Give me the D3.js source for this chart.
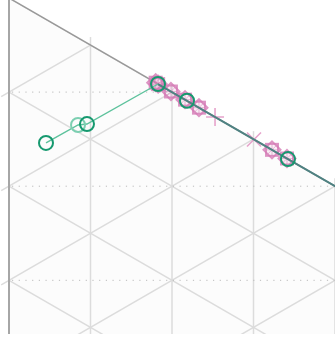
<!DOCTYPE html>
<html><head><meta charset="utf-8">
<script src="https://cdn.jsdelivr.net/npm/d3@7/dist/d3.min.js"></script>
<style>html,body{margin:0;padding:0;background:#fff}svg{display:block}</style>
</head><body><svg id="c" width="335" height="339"></svg>
<script>
// ternary components: r (right vertex), l (bottom-left vertex), t = 1 - r - l
const gridTicks = [0, 0.1, 0.2, 0.3, 0.4];
const greenR = [0.0454, 0.0847, 0.0957, 0.1828, 0.2184, 0.3423];
const greenL = [0.1313, 0.0926, 0.0861, 0.0, 0.0, 0.0];
const greenFaded = [false, true, false, false, false, false];
const tealR = [0.1828, 0.3423, 0.45];
const tealL = [0, 0, 0];
const pinkStarR = [0.1800, 0.1830, 0.1987, 0.2160, 0.2331, 0.3227, 0.3411];
const pinkStarL = [0, 0, 0, 0, 0, 0, 0];
const pinkPlusR = [0.2528];
const pinkPlusL = [0];
const pinkXR = [0.3006];
const pinkXL = [0];

const W = 335, H = 339, clipBottom = 334;
const svg = d3.select('#c');
const tan30 = Math.tan(Math.PI/6);
const xs = d3.scaleLinear().domain([0, 0.4]).range([9, 335]);
const hPx = xs(1) - xs(0);
const ys = d3.scaleLinear().domain([0, 1]).range([-2, -2 + hPx / Math.cos(Math.PI/6)]);
function P(r, l){ const x = xs(r); return [x, ys(l) + (x - xs(0)) * tan30]; }

const defs = svg.append('defs');
defs.append('clipPath').attr('id','tri').append('path')
  .attr('d', 'M' + [P(0,0), P(1,0), P(0,1)].map(p=>p.join(',')).join('L') + 'Z');
defs.append('clipPath').attr('id','view').append('rect').attr('x',0).attr('y',0).attr('width',W).attr('height',clipBottom);

const root = svg.append('g').attr('clip-path','url(#view)');
root.append('path').attr('d', 'M' + [P(0,0), P(1,0), P(0,1)].map(p=>p.join(',')).join('L') + 'Z')
  .attr('fill', '#fcfcfc');

const grid = root.append('g').attr('clip-path','url(#tri)').attr('stroke','#dcdcdc').attr('stroke-width',1.5).attr('fill','none');
const fine = d3.range(0, 1.0001, 0.1);
fine.forEach(v => { const a = P(v, 0), b = P(v, 1 - v); grid.append('line').attr('x1',a[0]).attr('y1',a[1]).attr('x2',b[0]).attr('y2',b[1]); });
fine.forEach(v => { const a = P(0, v), b = P(1 - v, v); grid.append('line').attr('x1',a[0]).attr('y1',a[1]).attr('x2',b[0]).attr('y2',b[1]); });
fine.forEach(v => { const a = P(0, 1 - v), b = P(1 - v, 0); grid.append('line').attr('x1',a[0]).attr('y1',a[1]).attr('x2',b[0]).attr('y2',b[1]); });

const tk = root.append('g').attr('stroke','#dcdcdc').attr('stroke-width',1.5);
gridTicks.slice(1).forEach(v => { const a = P(v, 0); tk.append('line').attr('x1',a[0]).attr('y1',a[1]).attr('x2',a[0]).attr('y2',a[1]-8); });
fine.slice(1).forEach(v => { const a = P(0, v); tk.append('line').attr('x1',a[0]).attr('y1',a[1]).attr('x2',a[0]-9*Math.cos(Math.PI/6)).attr('y2',a[1]+9*0.5); });

fine.slice(1).forEach(v => { const a = P(0, v); const xEnd = xs(0) + (a[1] - ys(0)) / tan30;
  root.append('line').attr('x1',a[0]+3).attr('y1',a[1]).attr('x2',Math.min(xEnd, W)).attr('y2',a[1])
    .attr('stroke','#bbbbbb').attr('stroke-width',1).attr('stroke-dasharray','1.2,5.5'); });

const e0 = P(0,0), e1 = P(1,0), e2 = P(0,1);
root.append('line').attr('x1',e0[0]).attr('y1',e0[1]).attr('x2',e2[0]).attr('y2',e2[1]).attr('stroke','#a6a6a6').attr('stroke-width',2);
root.append('line').attr('x1',e0[0]).attr('y1',e0[1]).attr('x2',e1[0]).attr('y2',e1[1]).attr('stroke','#999999').attr('stroke-width',1.5);

const pink = '#d47ab5';
const mk = root.append('g');
function star(c){
  const [x,y] = c, s = 6, d = 8.5;
  const g = mk.append('g').attr('stroke', pink).attr('stroke-width',2).attr('stroke-opacity',0.8);
  g.append('rect').attr('x',x-s).attr('y',y-s).attr('width',2*s).attr('height',2*s).attr('fill',pink).attr('fill-opacity',0.1);
  g.append('path').attr('d',`M${x},${y-d}L${x+d},${y}L${x},${y+d}L${x-d},${y}Z`).attr('fill','none');
  g.append('path').attr('d',`M${x-6},${y}H${x+6}M${x},${y-6}V${y+6}M${x-4.5},${y-4.5}L${x+4.5},${y+4.5}M${x-4.5},${y+4.5}L${x+4.5},${y-4.5}`).attr('stroke-width',1).attr('stroke-opacity',0.5);
}
pinkStarR.forEach((r,i)=>star(P(r, pinkStarL[i])));
pinkPlusR.forEach((r,i)=>{ const [x,y]=P(r,pinkPlusL[i]); mk.append('path').attr('d',`M${x-9},${y}H${x+9}M${x},${y-9}V${y+9}`).attr('stroke','#e6a3cb').attr('stroke-width',1.6); });
pinkXR.forEach((r,i)=>{ const [x,y]=P(r,pinkXL[i]); mk.append('path').attr('d',`M${x-7},${y-7}L${x+7},${y+7}M${x-7},${y+7}L${x+7},${y-7}`).attr('stroke','#e6a3cb').attr('stroke-width',1.6); });

const line = d3.line();
root.append('path').attr('d', line(tealR.map((r,i)=>P(r,tealL[i])))).attr('fill','none').attr('stroke','#4f8282').attr('stroke-width',2);
root.append('path').attr('d', line(greenR.slice(0,4).map((r,i)=>P(r,greenL[i])))).attr('fill','none').attr('stroke','#5dc29c').attr('stroke-width',1.4);
greenR.forEach((r,i)=>{ const [x,y]=P(r,greenL[i]);
  root.append('circle').attr('cx',x).attr('cy',y).attr('r',7).attr('fill','none')
    .attr('stroke', greenFaded[i] ? '#7ccfb1' : '#16996f').attr('stroke-width',2); });
</script></body></html>
